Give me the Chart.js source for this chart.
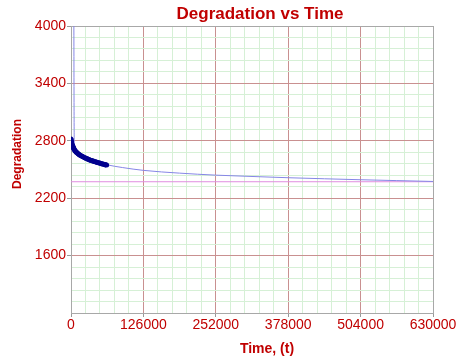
<!DOCTYPE html>
<html>
<head>
<meta charset="utf-8">
<script src="https://cdn.jsdelivr.net/npm/chart.js@4.4.1/dist/chart.umd.min.js"></script>
<style>
  html, body { margin: 0; padding: 0; background: #fff; }
  #wrap { width: 470px; height: 356px; }
</style>
</head>
<body>
<div id="wrap"><canvas id="degChart" width="470" height="356"></canvas></div>
<script>
// observed degradation points (thick dark trace)
const obsTime = [0, 800, 1600, 2500, 3500, 4500, 5500, 7000, 8500, 10000, 12000, 14000, 16000, 18500,
  21000, 24000, 27000, 30000, 33000, 36000, 39000, 42000, 45000, 48000, 51000, 54000, 57000, 60000, 62000];
const obsDegradation = [2820, 2790, 2765, 2750, 2738, 2725, 2712, 2697, 2686, 2677, 2666, 2657, 2649, 2640,
  2632, 2623, 2614, 2606, 2599, 2593, 2587, 2581, 2575, 2570, 2565, 2559, 2554, 2549, 2546];

// fitted curve (thin blue line)
const fitTime = [5000, 5300, 5700, 8000, 20000, 40000, 62000, 90000, 126000, 189000, 252000, 315000,
  378000, 441000, 504000, 567000, 630000];
const fitDegradation = [4000, 3200, 2760, 2700, 2635, 2585, 2550, 2520, 2491, 2462, 2441, 2427,
  2414, 2403, 2393, 2384, 2375];

// horizontal reference line
const limitTime = [0, 630000];
const limitDegradation = [2372, 2372];

const xMajorTicks = [0, 126000, 252000, 378000, 504000, 630000];
const yMajorTicks = [1600, 2200, 2800, 3400, 4000];

const red = '#c00000';
const majorGrid = '#c99090';
const minorGrid = '#d6f0d6';

function pts(xs, ys) {
  return xs.map((x, i) => ({ x: x, y: ys[i] }));
}

// titles and plot frame
const frame = {
  id: 'frame',
  beforeDatasetsDraw(chart) {
    const a = chart.chartArea, ctx = chart.ctx;
    ctx.save();
    ctx.strokeStyle = '#a8a8a8';
    ctx.lineWidth = 1;
    ctx.strokeRect(a.left + 0.5, a.top + 0.5, a.right - a.left, a.bottom - a.top);
    ctx.restore();
  },
  afterDraw(chart) {
    const ctx = chart.ctx;
    ctx.save();
    ctx.fillStyle = red;
    ctx.textAlign = 'center';
    ctx.textBaseline = 'middle';
    ctx.font = 'bold 17px "Liberation Sans", Arial, sans-serif';
    ctx.fillText('Degradation vs Time', 260, 14);
    ctx.font = 'bold 14px "Liberation Sans", Arial, sans-serif';
    ctx.fillText('Time, (t)', 267, 349);
    ctx.translate(18, 154);
    ctx.rotate(-Math.PI / 2);
    ctx.font = 'bold 12px "Liberation Sans", Arial, sans-serif';
    ctx.fillText('Degradation', 0, 0);
    ctx.restore();
  }
};

new Chart(document.getElementById('degChart'), {
  type: 'scatter',
  data: {
    datasets: [
      {
        data: pts(obsTime, obsDegradation),
        showLine: true,
        borderColor: '#00008e',
        borderWidth: 5,
        pointRadius: 2.5,
        pointBackgroundColor: '#00008e',
        pointBorderWidth: 0,
        cubicInterpolationMode: 'monotone'
      },
      {
        data: pts(fitTime, fitDegradation),
        showLine: true,
        borderColor: '#8686e6',
        borderWidth: 1,
        pointRadius: 0,
        cubicInterpolationMode: 'monotone'
      },
      {
        data: pts(limitTime, limitDegradation),
        showLine: true,
        borderColor: '#e08ee0',
        borderWidth: 1,
        pointRadius: 0
      }
    ]
  },
  options: {
    responsive: false,
    animation: false,
    devicePixelRatio: 1,
    layout: { padding: { top: 26, right: 37, left: 0, bottom: 0 } },
    plugins: { legend: { display: false }, tooltip: { enabled: false } },
    scales: {
      x: {
        type: 'linear',
        min: 0,
        max: 630000,
        afterFit(s) { s.height = 43; },
        border: { color: '#a8a8a8' },
        grid: {
          color: c => xMajorTicks.includes(c.tick.value) ? majorGrid : minorGrid,
          tickColor: c => xMajorTicks.includes(c.tick.value) ? '#999' : 'rgba(0,0,0,0)',
          tickLength: 4
        },
        ticks: {
          stepSize: 25200,
          maxTicksLimit: 100,
          autoSkip: false,
          maxRotation: 0,
          padding: 0,
          color: red,
          font: { family: '"Liberation Sans", Arial, sans-serif', size: 14 },
          callback: v => xMajorTicks.includes(v) ? String(v) : ''
        }
      },
      y: {
        min: 1000,
        max: 4000,
        afterFit(s) { s.width = 71; },
        border: { color: '#a8a8a8' },
        grid: {
          color: c => (c.tick.value - 1000) % 600 === 0 ? majorGrid : minorGrid,
          tickColor: c => yMajorTicks.includes(c.tick.value) ? '#999' : 'rgba(0,0,0,0)',
          tickLength: 4
        },
        ticks: {
          stepSize: 120,
          maxTicksLimit: 100,
          autoSkip: false,
          padding: 1,
          color: red,
          font: { family: '"Liberation Sans", Arial, sans-serif', size: 14 },
          callback: v => yMajorTicks.includes(v) ? String(v) : ''
        }
      }
    }
  },
  plugins: [frame]
});
</script>
</body>
</html>
